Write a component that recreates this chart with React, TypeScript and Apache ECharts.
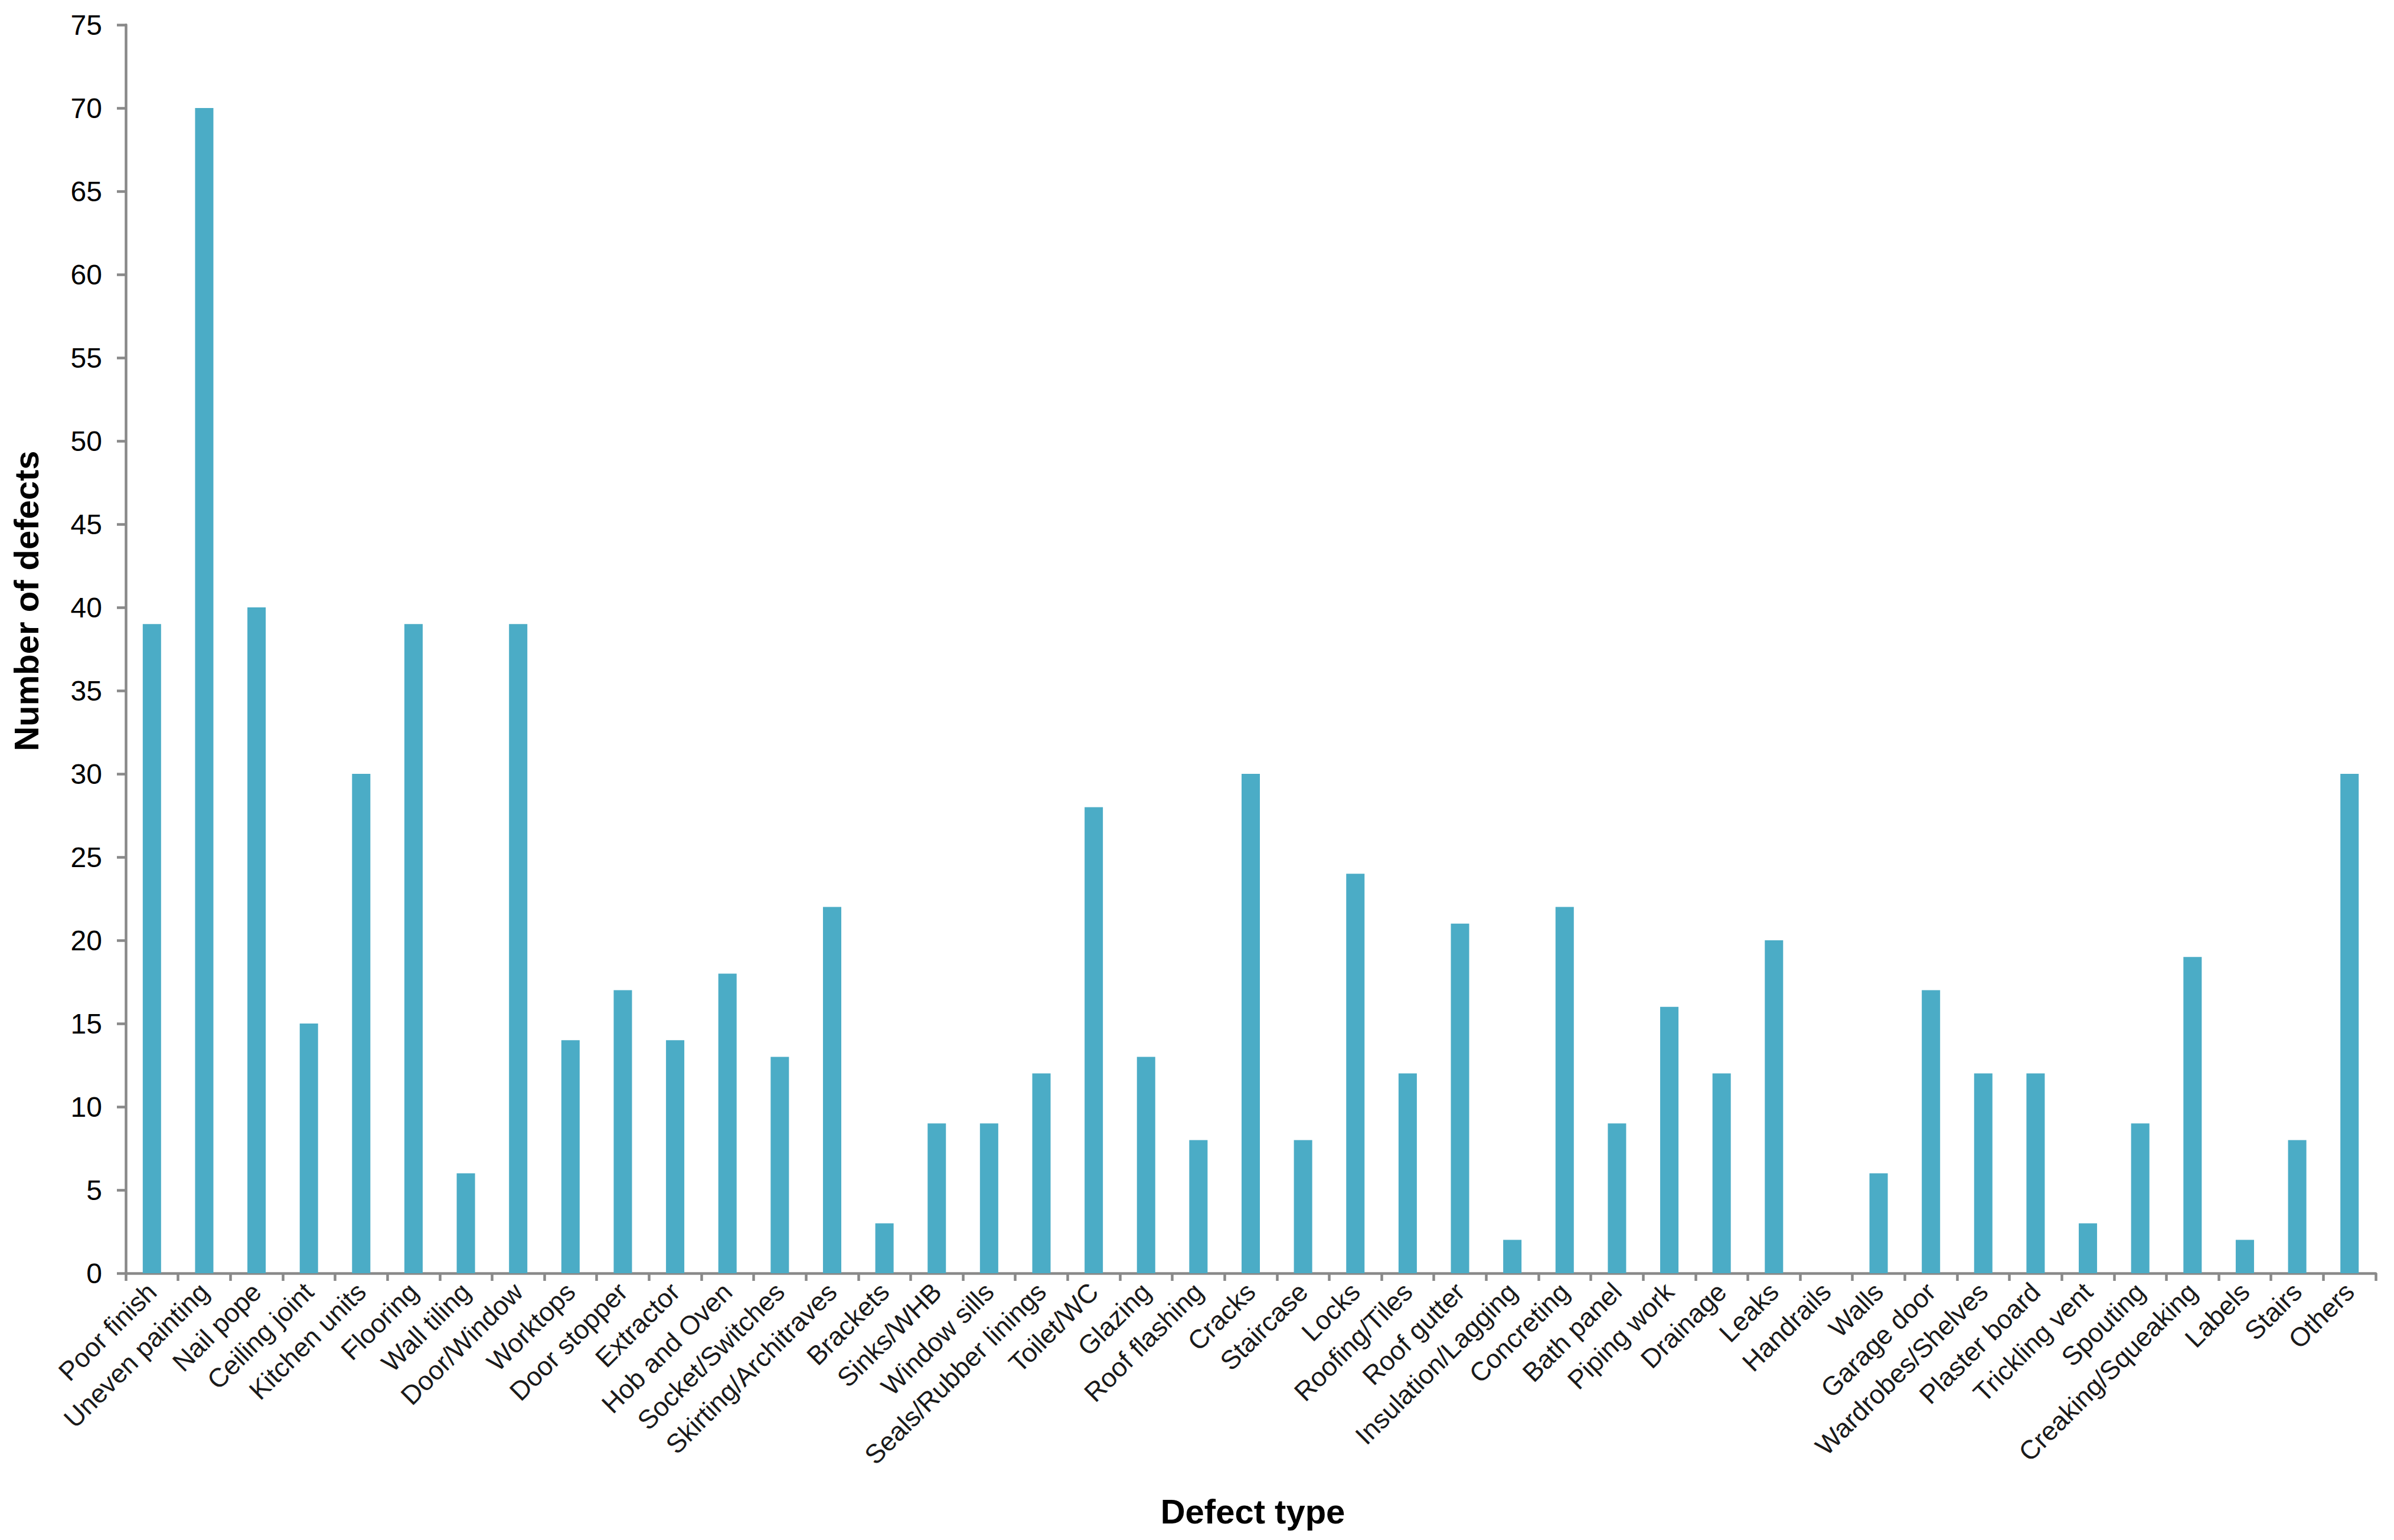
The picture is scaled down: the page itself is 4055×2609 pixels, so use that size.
import React, { useEffect, useRef } from "react";
import * as echarts from "echarts";

const categories = [
  "Poor finish", "Uneven painting", "Nail pope", "Ceiling joint", "Kitchen units",
  "Flooring", "Wall tiling", "Door/Window", "Worktops", "Door stopper",
  "Extractor", "Hob and Oven", "Socket/Switches", "Skirting/Architraves", "Brackets",
  "Sinks/WHB", "Window sills", "Seals/Rubber linings", "Toilet/WC", "Glazing",
  "Roof flashing", "Cracks", "Staircase", "Locks", "Roofing/Tiles",
  "Roof gutter", "Insulation/Lagging", "Concreting", "Bath panel", "Piping work",
  "Drainage", "Leaks", "Handrails", "Walls", "Garage door",
  "Wardrobes/Shelves", "Plaster board", "Trickling vent", "Spouting", "Creaking/Squeaking",
  "Labels", "Stairs", "Others",
];

const defects = [
  39, 70, 40, 15, 30,
  39, 6, 39, 14, 17,
  14, 18, 13, 22, 3,
  9, 9, 12, 28, 13,
  8, 30, 8, 24, 12,
  21, 2, 22, 9, 16,
  12, 20, 0, 6, 17,
  12, 12, 3, 9, 19,
  2, 8, 30,
];

const yMin = 0;
const yMax = 75;
const yStep = 5;

const xTitle = "Defect type";
const yTitle = "Number of defects";

const FONT = '"Liberation Sans", Arial, sans-serif';
const AXIS_GRAY = "#898989";
const BAR_COLOR = "#4BACC6";

export default function App() {
  const ref = useRef<HTMLDivElement>(null);

  useEffect(() => {
    if (!ref.current) return;
    const chart = echarts.init(ref.current, undefined, { renderer: "svg" });
    chart.setOption({
      animation: false,
      backgroundColor: "#ffffff",
      grid: { left: 213, right: 31, top: 42, bottom: 452, containLabel: false },
      xAxis: {
        type: "category",
        data: categories,
        boundaryGap: true,
        axisLine: { show: true, lineStyle: { color: AXIS_GRAY, width: 4.5 } },
        axisTick: { show: true, alignWithLabel: false, interval: 0, length: 13, lineStyle: { color: AXIS_GRAY, width: 4.5 } },
        axisLabel: {
          interval: 0,
          rotate: 45,
          margin: 24,
          fontSize: 45,
          fontFamily: FONT,
          color: "#1a1a1a",
        },
        splitLine: { show: false },
      },
      yAxis: {
        type: "value",
        min: yMin,
        max: yMax,
        interval: yStep,
        axisLine: { show: true, lineStyle: { color: AXIS_GRAY, width: 4.5 } },
        axisTick: { show: true, length: 15, lineStyle: { color: AXIS_GRAY, width: 4.5 } },
        axisLabel: { margin: 40, fontSize: 48, fontFamily: FONT, color: "#000000" },
        splitLine: { show: false },
      },
      series: [
        {
          type: "bar",
          data: defects,
          barWidth: "35%",
          itemStyle: { color: BAR_COLOR },
        },
      ],
      graphic: [
        {
          type: "text",
          x: 44,
          y: 1018,
          rotation: Math.PI / 2,
          style: {
            text: yTitle,
            fontSize: 58,
            fontWeight: "bold",
            fontFamily: FONT,
            fill: "#000000",
            align: "center",
            verticalAlign: "middle",
          },
        },
        {
          type: "text",
          x: 2122,
          y: 2560,
          style: {
            text: xTitle,
            fontSize: 58,
            fontWeight: "bold",
            fontFamily: FONT,
            fill: "#000000",
            align: "center",
            verticalAlign: "middle",
          },
        },
      ],
    });
    return () => chart.dispose();
  }, []);

  return (
    <div
      ref={ref}
      style={{ position: "fixed", left: 0, top: 0, width: 4055, height: 2609, background: "#fff" }}
    />
  );
}
